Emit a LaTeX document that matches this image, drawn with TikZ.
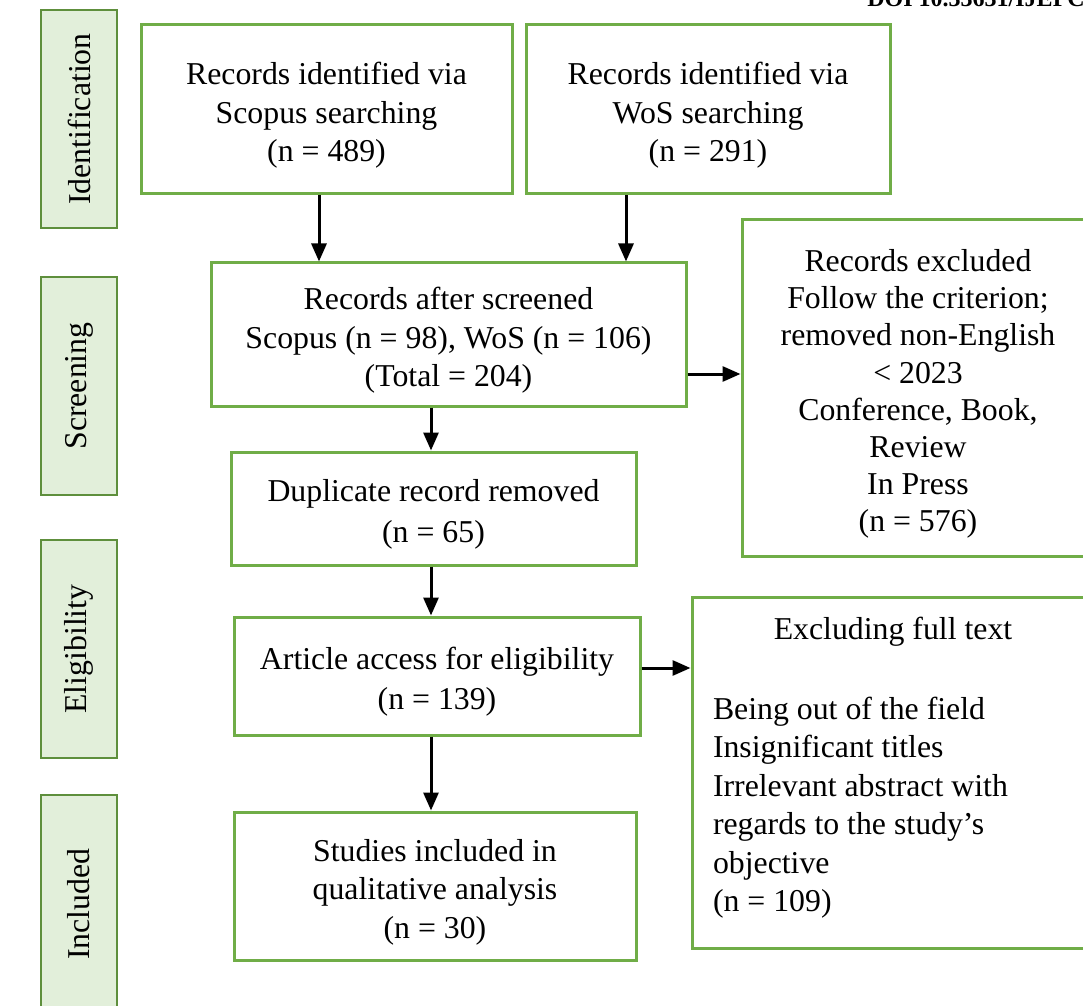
\documentclass[tikz,border=0pt]{standalone}
\usepackage{fontspec}
\setmainfont{Liberation Serif}
\usetikzlibrary{arrows.meta, positioning}

\definecolor{boxgreen}{HTML}{70AD47}
\definecolor{stagefill}{HTML}{E2EFDA}
\definecolor{stageline}{HTML}{5E8F3C}
\newcommand{\toppad}{\rule{0pt}{17pt}}

\begin{document}
\begin{tikzpicture}[x=0.5pt, y=-0.5pt,
    box/.style={draw=boxgreen, line width=1.5pt, align=center, inner sep=0pt,
        font=\fontsize{15.9}{19.2}\selectfont},
    stage/.style={draw=stageline, fill=stagefill, line width=1.2pt, rotate=90,
        minimum width=109pt, minimum height=38pt, inner sep=0pt,
        font=\fontsize{15.9}{19.2}\selectfont},
    arr/.style={-{Triangle[length=9pt, width=7.5pt]}, line width=1.5pt}]
    \useasboundingbox (0,0) rectangle (1083,1006);

    \node[anchor=base west, inner sep=0pt, font=\bfseries\fontsize{12}{14}\selectfont] (doi) at (867,7) {DOI 10.33631/IJEPC};

    % stages
    \node[stage] (ident) at (79,119) {Identification};
    \node[stage] (screen) at (79,386) {Screening};
    \node[stage] (elig) at (79,649) {Eligibility};
    \node[stage] (incl) at (79,904) {Included};

    % flow boxes
    \node[box, minimum width=185.5pt, minimum height=84.5pt] (scopus) at (326.5,109.5) {\toppad Records identified via\\Scopus searching\\(n = 489)};
    \node[box, minimum width=182pt, minimum height=84.5pt] (wos) at (708,109.5) {\toppad Records identified via\\WoS searching\\(n = 291)};
    \node[box, minimum width=237.5pt, minimum height=71.5pt] (screened) at (448.5,334.5) {\toppad Records after screened\\Scopus (n = 98), WoS (n = 106)\\(Total = 204)};
    \node[box, minimum width=176pt, minimum height=168pt] (excluded) at (918,388) {\toppad Records excluded\\[-0.6pt]Follow the criterion;\\[-0.6pt]removed non-English\\[-0.6pt]\textless{} 2023\\[-0.6pt]Conference, Book,\\[-0.6pt]Review\\[-0.6pt]In Press\\[-0.6pt](n = 576)};
    \node[box, minimum width=202.5pt, minimum height=56.5pt] (dup) at (433.5,508.5) {\toppad Duplicate record removed\\[1pt](n = 65)};
    \node[box, minimum width=203pt, minimum height=59pt] (access) at (437,676) {\toppad Article access for eligibility\\[1pt](n = 139)};
    \node[box, minimum width=201pt, minimum height=175.5pt, text width=180pt, align=flush left] (fulltext) at (893,772.5) {\makebox[180pt]{Excluding full text}\\[21pt]Being out of the field\\Insignificant titles\\Irrelevant abstract with\\regards to the study's\\objective\\(n = 109)\\[-10.8pt]\rule{0pt}{0pt}};
    \node[box, minimum width=201pt, minimum height=74pt] (studies) at (435,886) {\toppad Studies included in\\qualitative analysis\\(n = 30)};

    \coordinate (scopusdrop) at (319,0);
    \coordinate (wosdrop) at (626,0);
    \coordinate (spine) at (431,0);
    \coordinate (exclrow1) at (0,374);
    \coordinate (exclrow2) at (0,668);

    \draw[arr] (scopus.south -| scopusdrop) -- (screened.north -| scopusdrop);
    \draw[arr] (wos.south -| wosdrop) -- (screened.north -| wosdrop);
    \draw[arr] (screened.east |- exclrow1) -- (excluded.west |- exclrow1);
    \draw[arr] (screened.south -| spine) -- (dup.north -| spine);
    \draw[arr] (dup.south -| spine) -- (access.north -| spine);
    \draw[arr] (access.east |- exclrow2) -- (fulltext.west |- exclrow2);
    \draw[arr] (access.south -| spine) -- (studies.north -| spine);
\end{tikzpicture}
\end{document}
